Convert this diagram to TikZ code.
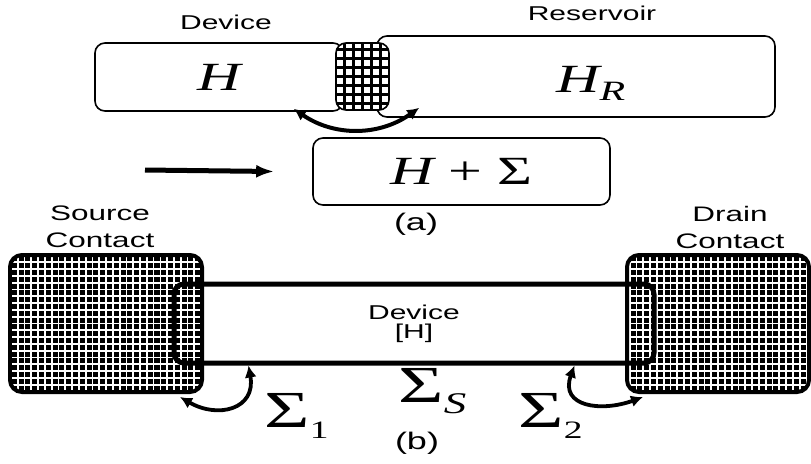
\documentclass[tikz,border=0pt]{standalone}
\usepackage{fontspec}
\setmainfont{Liberation Sans}
\newfontfamily\tmfont{Liberation Serif}
\usetikzlibrary{arrows.meta}
\newcommand{\wide}[1]{\scalebox{1.5}[1]{#1}}

\begin{document}
\begin{tikzpicture}[x=0.5pt,y=-0.5pt,
 box/.style={draw,line width=0.8pt,rounded corners=5pt,inner sep=0pt},
 leadgrid/.style={draw,fill=white,line width=0.8pt,rounded corners=5pt,inner sep=0pt,
  path picture={\draw[line width=1.1pt] (path picture bounding box.south west) grid[step=4.5pt] (path picture bounding box.north east);}},
 contact/.style={draw,fill=black,line width=2pt,rounded corners=6pt,inner sep=0pt,
  path picture={\draw[white,line width=0.9pt] ([shift={(1.2pt,-1.2pt)}]path picture bounding box.south west) grid[step=3.4pt] (path picture bounding box.north east);}},
 link/.style={line width=1.9pt,{Latex[length=6pt,width=6pt]}-{Latex[length=6pt,width=6pt]}},
 sans/.style={font=\fontsize{#1}{#1}\selectfont},
 serif/.style={font=\tmfont\fontsize{#1}{#1}\selectfont}]
 \useasboundingbox (0,0) rectangle (811,463);

 \node[sans=10] (devAlbl) at (226,22) {\wide{Device}};
 \node[sans=10] (resAlbl) at (592,13) {\wide{Reservoir}};
 \node[box,minimum width=199pt,minimum height=40.5pt] (resA) at (576,76.5) {};
 \node[serif=20,anchor=base west,inner sep=0pt] (hR) at (556,92) {\wide{\itshape H\raisebox{-4pt}{\fontsize{14}{14}\selectfont R}}};
 \node[box,minimum width=124pt,minimum height=34pt,serif=20] (devA) at (219,77) {\wide{\itshape H}};
 \node[leadgrid,minimum width=26.5pt,minimum height=33.5pt] (leadA) at (362.5,76.5) {};
 \draw[link,line width=2pt] ([xshift=-25pt,yshift=1.5pt]devA.south east) to[bend right=35] ([xshift=21.5pt,yshift=5pt]resA.south west);
 \node[box,minimum width=148.5pt,minimum height=33.5pt,serif=20] (sumA) at (461.5,171.5) {\wide{\itshape H\upshape{} + Σ}};
 \coordinate (arrowA) at (145,170);
 \draw[line width=2.5pt,-{Latex[length=9pt,width=6.5pt]}] (arrowA) -- ([xshift=-19pt]sumA.west);
 \node[sans=12] (capA) at (416,224) {\wide{(a)}};

 \node[align=center,font=\fontsize{10.5}{13.5}\selectfont] (srclbl) at (100,227) {\wide{Source}\\\wide{Contact}};
 \node[align=center,font=\fontsize{10.5}{13.5}\selectfont] (drnlbl) at (730,227) {\wide{Drain}\\\wide{Contact}};
 \node[contact,minimum width=96pt,minimum height=68.5pt] (src) at (106,323.5) {};
 \node[contact,minimum width=91pt,minimum height=68.5pt] (drn) at (718,323.5) {};
 \node[draw,line width=2.5pt,rounded corners=5pt,minimum width=240pt,minimum height=39.5pt,align=center,font=\fontsize{10}{9.5}\selectfont] (devB) at (414,323.5) {\wide{Device}\\\wide{[H]}};
 \draw[link] ([xshift=-12pt,yshift=-1.5pt]src.south east) to[out=-30,in=-80,looseness=1.5] ([xshift=38.5pt]devB.south west);
 \draw[link] ([xshift=-41pt]devB.south east) to[out=-110,in=200,looseness=1.5] ([xshift=9pt,yshift=-1.5pt]drn.south west);
 \node[serif=26,anchor=base west,inner sep=0pt] (sig1) at (264,427) {\wide{Σ\raisebox{-5.5pt}{\fontsize{12.5}{12.5}\selectfont 1}}};
 \node[serif=26,anchor=base west,inner sep=0pt] (sigS) at (398,402) {\wide{Σ\raisebox{-5.5pt}{\fontsize{15}{15}\selectfont\itshape S}}};
 \node[serif=26,anchor=base west,inner sep=0pt] (sig2) at (518,427) {\wide{Σ\raisebox{-5.5pt}{\fontsize{12.5}{12.5}\selectfont 2}}};
 \node[sans=12] (capB) at (417,443) {\wide{(b)}};
\end{tikzpicture}
\end{document}
